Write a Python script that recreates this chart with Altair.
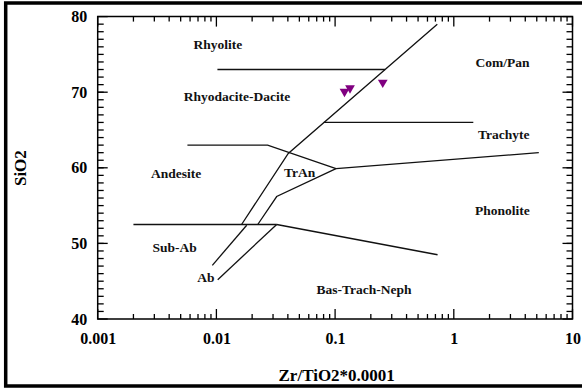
import altair as alt
import pandas as pd

# Field boundaries of the Zr/TiO2 - SiO2 classification diagram
boundary_ids = ["rhy", "rhy",
                "compan", "compan", "compan",
                "ab_a", "ab_a",
                "ab_b", "ab_b",
                "tran", "tran", "tran",
                "trach", "trach",
                "com66", "com66",
                "andes", "andes", "andes",
                "subab", "subab",
                "btn", "btn"]
boundary_zr = [0.0102, 0.264,
               0.726, 0.0403, 0.0163,
               0.018, 0.00924,
               0.0322, 0.01026,
               0.0223, 0.0322, 0.1018,
               0.1018, 5.2,
               0.0803, 1.46,
               0.0057, 0.027, 0.1018,
               0.002, 0.0322,
               0.0322, 0.73]
boundary_si = [73.0, 73.0,
               79.0, 61.9, 52.5,
               52.4, 47.1,
               52.5, 45.2,
               52.5, 56.2, 59.9,
               59.9, 62.0,
               66.0, 66.0,
               63.0, 63.0, 59.9,
               52.5, 52.5,
               52.5, 48.5]

# Samples
sample_zr = [0.120, 0.1335, 0.252]
sample_si = [69.9, 70.35, 71.1]

# Field names
field_names = ["Rhyolite", "Rhyodacite-Dacite", "Com/Pan", "Trachyte", "Andesite",
               "TrAn", "Phonolite", "Sub-Ab", "Ab", "Bas-Trach-Neph"]
field_zr = [0.0103, 0.0149, 2.57, 2.63, 0.00457, 0.0503, 2.57, 0.00445, 0.00814, 0.175]
field_si = [76.3, 69.35, 73.8, 64.35, 59.2, 59.3, 54.35, 49.35, 45.4, 43.85]

# Axis ticks
x_major = [0.001, 0.01, 0.1, 1, 10]
x_minor = [m * d for d in [0.001, 0.01, 0.1, 1] for m in range(2, 10)]
y_major = [40, 50, 60, 70, 80]
y_minor = list(range(41, 80))

W, H = 474.8, 302.4
FONT = "Liberation Serif"

order = []
prev = None
k = 0
for s in boundary_ids:
    k = k + 1 if s == prev else 0
    order.append(k)
    prev = s
lines_df = pd.DataFrame({"seg": boundary_ids, "zr": boundary_zr, "si": boundary_si, "o": order})
samples_df = pd.DataFrame({"zr": sample_zr, "si": sample_si})
names_df = pd.DataFrame({"name": field_names, "zr": field_zr, "si": field_si})

xscale = alt.Scale(type="log", domain=[0.001, 10], nice=False)
yscale = alt.Scale(domain=[40, 80], nice=False, zero=False)

xaxis = alt.Axis(values=x_major, format="~g", ticks=False, domain=False, grid=False,
                 labelFont=FONT, labelFontWeight="bold", labelFontSize=16,
                 labelPadding=11, labelColor="black", labelFlush=False,
                 title="Zr/TiO2*0.0001", titleFont=FONT, titleFontWeight="bold",
                 titleFontSize=17, titleColor="black", titleX=238.5, titleY=56,
                 titleBaseline="middle", titleAlign="center")
yaxis = alt.Axis(values=y_major, format="d", ticks=False, domain=False, grid=False,
                 labelFont=FONT, labelFontWeight="bold", labelFontSize=16,
                 labelPadding=11, labelColor="black", labelFlush=False,
                 title="SiO2", titleFont=FONT, titleFontWeight="bold",
                 titleFontSize=17, titleColor="black", titleX=-77, titleY=151,
                 titleBaseline="middle", titleAlign="center", titleAngle=270)

X = lambda f: alt.X(f"{f}:Q", scale=xscale, axis=xaxis)
Y = lambda f: alt.Y(f"{f}:Q", scale=yscale, axis=yaxis)

lines = alt.Chart(lines_df).mark_line(color="#111111", strokeWidth=1.3).encode(
    x=X("zr"), y=Y("si"), detail="seg:N", order="o:Q")

points = alt.Chart(samples_df).mark_point(
    shape="triangle-down", filled=True, size=95, color="#800080", opacity=1
).encode(x=X("zr"), y=Y("si"))

names = alt.Chart(names_df).mark_text(
    font=FONT, fontWeight="bold", fontSize=13.5, color="#111111", baseline="middle"
).encode(x=X("zr"), y=Y("si"), text="name:N")


def xticks(vals, length):
    df = pd.DataFrame({"v": vals})
    base = alt.Chart(df).mark_rule(color="black", strokeWidth=1.3)
    bottom = base.encode(x=X("v"), y=alt.value(H), y2=alt.value(H - length))
    top = base.encode(x=X("v"), y=alt.value(0), y2=alt.value(length))
    return [bottom, top]


def yticks(vals, length):
    df = pd.DataFrame({"v": vals})
    base = alt.Chart(df).mark_rule(color="black", strokeWidth=1.3)
    left = base.encode(y=Y("v"), x=alt.value(0), x2=alt.value(length))
    right = base.encode(y=Y("v"), x=alt.value(W), x2=alt.value(W - length))
    return [left, right]


frame = alt.Chart(pd.DataFrame({"a": [0]})).mark_rect(
    fillOpacity=0, stroke="black", strokeWidth=3.5
).encode(x=alt.value(-92), x2=alt.value(520), y=alt.value(-13.5), y2=alt.value(369.3))

chart = alt.layer(
    *xticks(x_major, 10), *xticks(x_minor, 5),
    *yticks(y_major, 10), *yticks(y_minor, 6),
    lines, points, names, frame
).properties(
    width=W, height=H,
    autosize=alt.AutoSizeParams(type="none"),
    padding={"left": 97.7, "top": 16.6, "right": 9.5, "bottom": 70},
    background="white"
).configure_view(stroke="black", strokeWidth=1.5)

chart.save("out.html", embed_options={"renderer": "svg", "actions": False})
